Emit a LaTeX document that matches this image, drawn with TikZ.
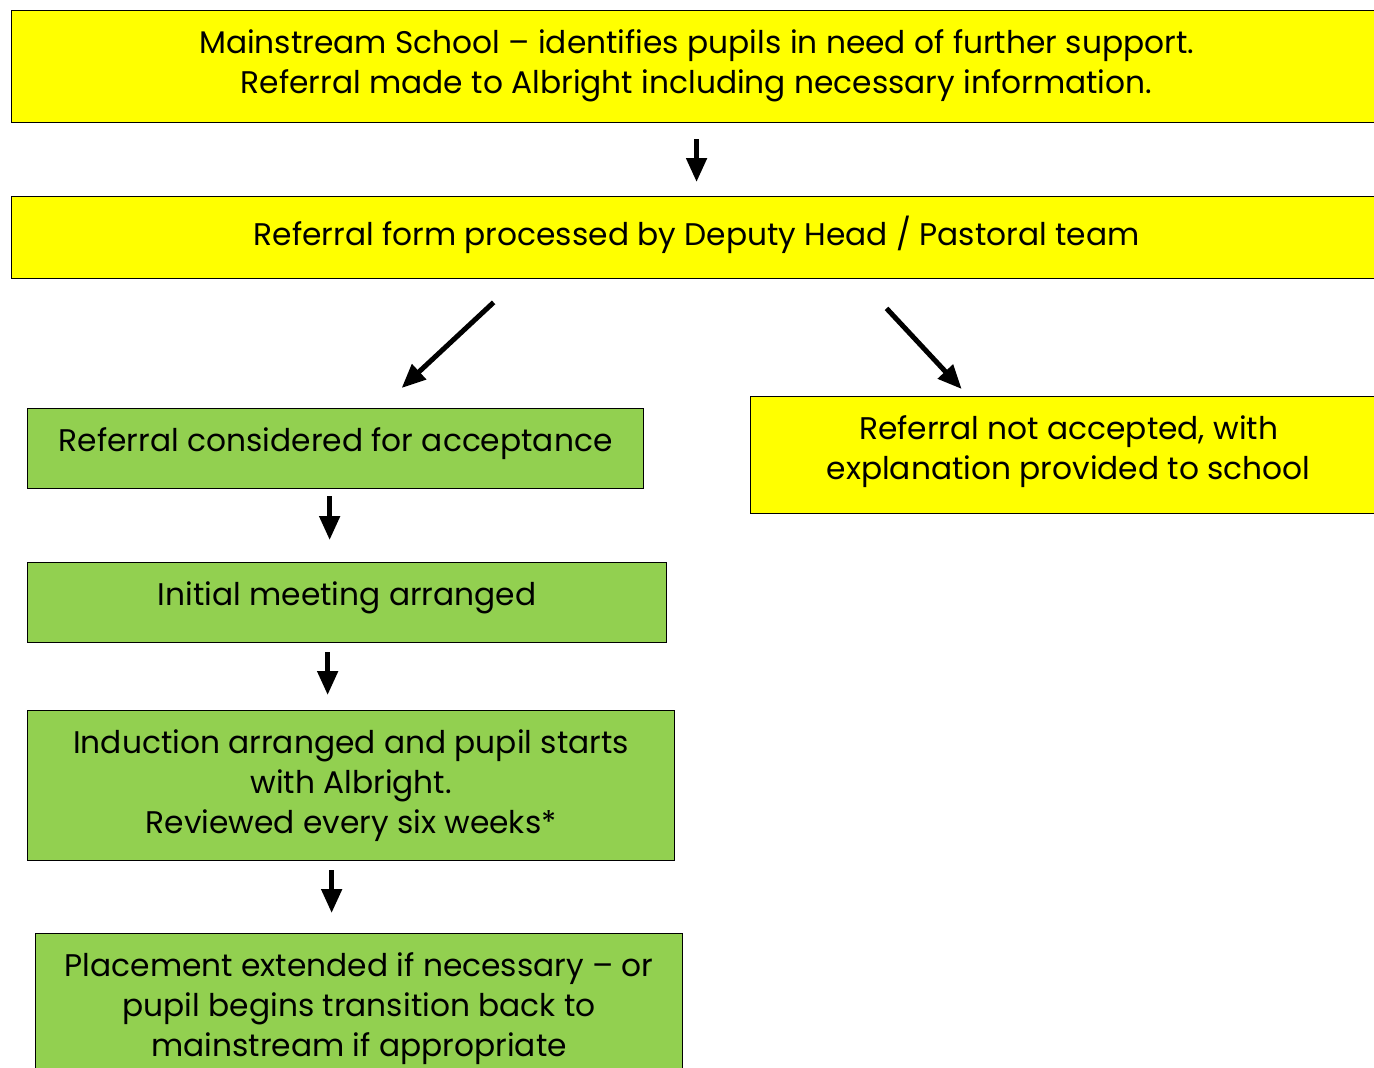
\documentclass[tikz,border=0pt]{standalone}
\usepackage{fontspec}
\setmainfont{Poppins}
\usetikzlibrary{arrows.meta, positioning}

\definecolor{boxyellow}{HTML}{FFFF00}
\definecolor{boxgreen}{HTML}{92D050}

\tikzset{
    stagebox/.style = {draw = black, line width = .8pt, inner sep = 0pt, anchor = north west},
    yellowbox/.style = {stagebox, fill = boxyellow},
    greenbox/.style = {stagebox, fill = boxgreen},
    boxtext/.style = {font = \fontsize{17.8}{22.6}\selectfont, align = center, inner sep = 0pt, anchor = north, yshift = -.39cm},
    flowarrow/.style = {line width = .1cm, -{Triangle[length = .48cm, width = .40cm]}}
}

\begin{document}
\begin{tikzpicture}[x = .02cm, y = -.02cm]
            \useasboundingbox (0,0) rectangle (1374,1068);

            % Draw the boxes:
            \node [yellowbox, minimum width = 27.40cm, minimum height = 2.24cm] (School) at (11,10) {};
            \node [yellowbox, minimum width = 27.40cm, minimum height = 1.64cm] (Processed) at (11,196) {};
            \node [greenbox, minimum width = 12.32cm, minimum height = 1.60cm] (Considered) at (27,408) {};
            \node [yellowbox, minimum width = 12.72cm, minimum height = 2.34cm] (Rejected) at (750,396) {};
            \node [greenbox, minimum width = 12.78cm, minimum height = 1.60cm] (Meeting) at (27,562) {};
            \node [greenbox, minimum width = 12.94cm, minimum height = 3.00cm] (Induction) at (27,710) {};
            \node [greenbox, minimum width = 12.94cm, minimum height = 3.00cm] (Placement) at (35,933) {};

            % Draw the box texts:
            \node [boxtext] (SchoolText) at (School.north)
                {Mainstream School -- identifies pupils in need of further support.\\
                 Referral made to Albright including necessary information.};
            \node [boxtext] (ProcessedText) at (Processed.north)
                {Referral form processed by Deputy Head / Pastoral team};
            \node [boxtext] (ConsideredText) at (Considered.north)
                {Referral considered for acceptance};
            \node [boxtext] (RejectedText) at (Rejected.north)
                {Referral not accepted, with\\explanation provided to school};
            \node [boxtext] (MeetingText) at (Meeting.north)
                {Initial meeting arranged};
            \node [boxtext] (InductionText) at (Induction.north)
                {Induction arranged and pupil starts\\with Albright.\\Reviewed every six weeks*};
            \node [boxtext] (PlacementText) at (Placement.north)
                {Placement extended if necessary -- or\\pupil begins transition back to\\mainstream if appropriate};

            % Draw the arrows:
            \draw [flowarrow, shorten <= .32cm, shorten >= .28cm] (School.south) -- (Processed.north);
            \draw [flowarrow] ([xshift = -4.06cm, yshift = -.46cm]Processed.south) -- ([xshift = 1.32cm, yshift = .40cm]Considered.north);
            \draw [flowarrow] ([xshift = 3.80cm, yshift = -.58cm]Processed.south) -- ([xshift = -2.14cm, yshift = .14cm]Rejected.north);
            \draw [flowarrow, shorten <= .14cm, shorten >= .44cm] ([xshift = -.12cm]Considered.south) -- ([xshift = -.12cm]Considered.south |- Meeting.north);
            \draw [flowarrow, shorten <= .18cm, shorten >= .30cm] ([xshift = -.39cm]Meeting.south) -- ([xshift = -.39cm]Meeting.south |- Induction.north);
            \draw [flowarrow, shorten <= .18cm, shorten >= .40cm] ([xshift = -.39cm]Induction.south) -- ([xshift = -.39cm]Induction.south |- Placement.north);
\end{tikzpicture}
\end{document}
